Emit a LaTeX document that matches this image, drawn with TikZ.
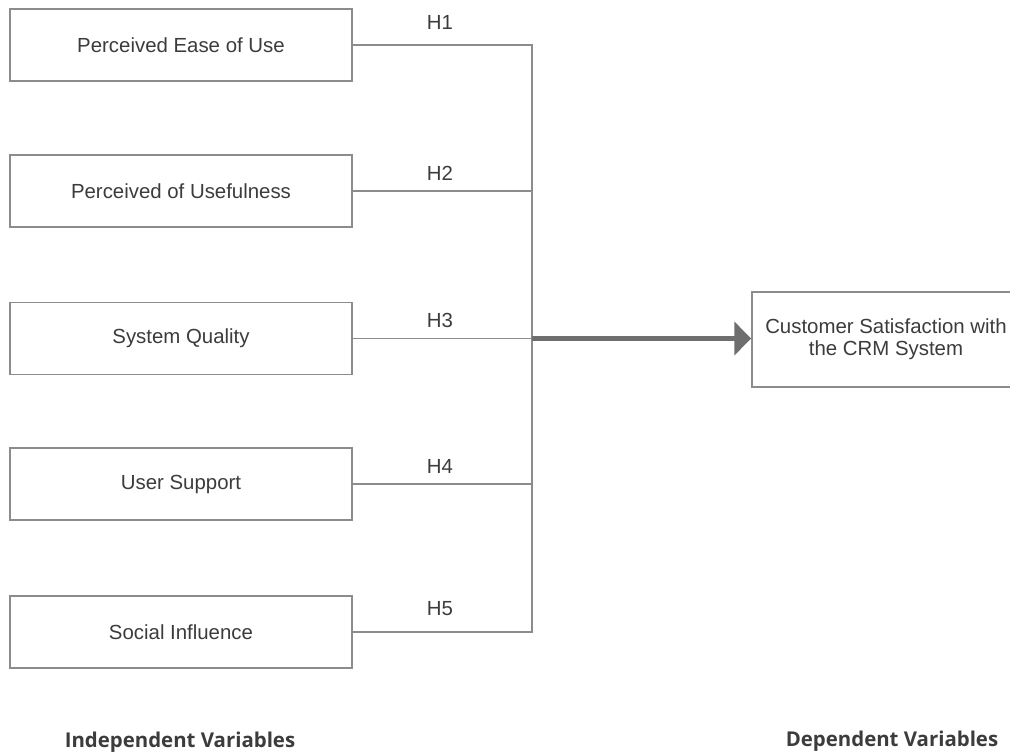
\documentclass[tikz,border=0pt]{standalone}
\usepackage{fontspec}
\setmainfont{Liberation Sans}
\newfontfamily\labelfont{Open Sans}
\usetikzlibrary{arrows.meta}
\definecolor{boxline}{HTML}{8C8C8C}
\definecolor{txt}{HTML}{3C3C3C}
\definecolor{arrowgray}{HTML}{6E6E6E}
\tikzset{
  varbox/.style={draw=boxline, line width=1.5pt, minimum width=342pt, minimum height=72pt,
    inner sep=0pt, text=txt, font=\fontsize{20.4}{22}\selectfont},
  depbox/.style={draw=boxline, line width=1.5pt, minimum width=268pt, minimum height=95pt,
    inner sep=0pt, text=txt, align=center, font=\fontsize{20.4}{22}\selectfont},
  conn/.style={draw=boxline, line width=1.4pt},
  hlabel/.style={text=txt, inner sep=0pt, font=\fontsize{20.4}{22}\selectfont},
  biglink/.style={draw=arrowgray, line width=5.5pt, -{Triangle[length=17pt,width=33pt]}},
  footlabel/.style={text=txt, inner sep=0pt, font=\labelfont\bfseries\fontsize{20.4}{22}\selectfont}
}
\begin{document}
\begin{tikzpicture}[x=1pt,y=-1pt]
\useasboundingbox[fill=white] (0,0) rectangle (1010,752);
\node[varbox] (b1) at (181,45) {Perceived Ease of Use};
\node[varbox] (b2) at (181,191) {Perceived of Usefulness};
\node[varbox] (b3) at (181,338.5) {System Quality};
\node[varbox] (b4) at (181,484) {User Support};
\node[varbox] (b5) at (181,632) {Social Influence};
\node[depbox] (out) at (886,339.5) {Customer Satisfaction with\\the CRM System};
\coordinate (jt) at (532,45);
\coordinate (jb) at (532,632);
\draw[conn] (b1.east) -- (jt) -- (jb) -- (b5.east);
\draw[conn] (b2.east) -- (b2.east -| jt);
\draw[conn] (b3.east) -- (b3.east -| jt);
\draw[conn] (b4.east) -- (b4.east -| jt);
\draw[biglink] (b3.east -| jt) -- (b3.east -| out.west);
\node[hlabel] (h1) at (440,22) {H1};
\node[hlabel] (h2) at (440,173) {H2};
\node[hlabel] (h3) at (440,320) {H3};
\node[hlabel] (h4) at (440,466) {H4};
\node[hlabel] (h5) at (440,609) {H5};
\node[footlabel] (iv) at (180,742) {Independent Variables};
\node[footlabel] (dv) at (892,741) {Dependent Variables};
\end{tikzpicture}
\end{document}
